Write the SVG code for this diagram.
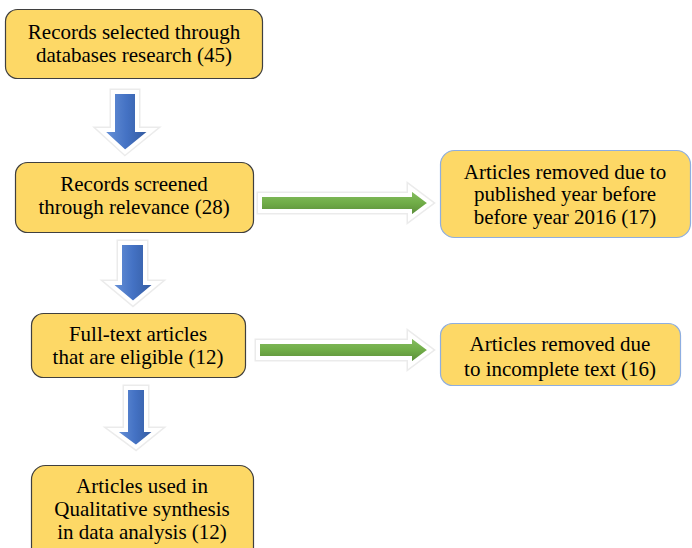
<svg xmlns="http://www.w3.org/2000/svg" width="692" height="548" viewBox="0 0 692 548">
<defs>
<linearGradient id="gb" x1="0" y1="0" x2="1" y2="0">
<stop offset="0" stop-color="#7099dc"/><stop offset="0.5" stop-color="#4472c4"/><stop offset="1" stop-color="#2f5597"/>
</linearGradient>
<linearGradient id="gg" x1="0" y1="0" x2="0" y2="1">
<stop offset="0" stop-color="#8cc269"/><stop offset="0.5" stop-color="#70ad47"/><stop offset="1" stop-color="#548235"/>
</linearGradient>
</defs>
<style>
.box{fill:#fdd866;stroke:#3f3f3f;stroke-width:1.2}
.boxb{fill:#fdd866;stroke:#8eaee0;stroke-width:1.2}
.halo{fill:none;stroke:#000;stroke-opacity:0.08;stroke-width:7;stroke-linejoin:miter}
.ab{fill:url(#gb);stroke:#fff;stroke-width:4;stroke-linejoin:miter}
.ag{fill:url(#gg);stroke:#fff;stroke-width:4;stroke-linejoin:miter}
</style>
<g id="connectors">
<path class="halo" d="M113,92 H137 V130 H152 L125,152 L101,130 H113 Z"/>
<path class="ab" d="M113,92 H137 V130 H152 L125,152 L101,130 H113 Z"/>
<path class="halo" d="M120,243 H145 V283 H157 L133,303 L109,283 H120 Z"/>
<path class="ab" d="M120,243 H145 V283 H157 L133,303 L109,283 H120 Z"/>
<path class="halo" d="M126,388 H146 V430 H157 L136,447 L113,430 H126 Z"/>
<path class="ab" d="M126,388 H146 V430 H157 L136,447 L113,430 H126 Z"/>
<path class="halo" d="M260,195 H410 V188 L430,203 L410,218 V211 H260 Z"/>
<path class="ag" d="M260,195 H410 V188 L430,203 L410,218 V211 H260 Z"/>
<path class="halo" d="M258,342 H410 V335 L430,350 L410,365 V358 H258 Z"/>
<path class="ag" d="M258,342 H410 V335 L430,350 L410,365 V358 H258 Z"/>
</g>
<g id="n1">
<rect class="box" x="5.5" y="9.5" width="257" height="69" rx="12"/>
<text x="134" y="39" text-anchor="middle" font-family="Liberation Serif, Times New Roman, serif" font-size="21">Records selected through</text>
<text x="134" y="62" text-anchor="middle" font-family="Liberation Serif, Times New Roman, serif" font-size="21">databases research (45)</text>
</g>
<g id="n2">
<rect class="box" x="15.5" y="162.5" width="238" height="70" rx="12"/>
<text x="134" y="191" text-anchor="middle" font-family="Liberation Serif, Times New Roman, serif" font-size="21">Records screened</text>
<text x="134" y="214" text-anchor="middle" font-family="Liberation Serif, Times New Roman, serif" font-size="21">through relevance (28)</text>
</g>
<g id="n3">
<rect class="boxb" x="440.5" y="150.5" width="250" height="87" rx="14"/>
<text x="565" y="179" text-anchor="middle" font-family="Liberation Serif, Times New Roman, serif" font-size="21">Articles removed due to</text>
<text x="565" y="201" text-anchor="middle" font-family="Liberation Serif, Times New Roman, serif" font-size="21">published year before</text>
<text x="565" y="224" text-anchor="middle" font-family="Liberation Serif, Times New Roman, serif" font-size="21">before year 2016 (17)</text>
</g>
<g id="n4">
<rect class="box" x="31.5" y="313.5" width="214" height="64" rx="12"/>
<text x="138" y="341" text-anchor="middle" font-family="Liberation Serif, Times New Roman, serif" font-size="21">Full-text articles</text>
<text x="138" y="364" text-anchor="middle" font-family="Liberation Serif, Times New Roman, serif" font-size="21">that are eligible (12)</text>
</g>
<g id="n5">
<rect class="boxb" x="440.5" y="323.5" width="240" height="62" rx="12"/>
<text x="560" y="351" text-anchor="middle" font-family="Liberation Serif, Times New Roman, serif" font-size="21">Articles removed due</text>
<text x="560" y="376" text-anchor="middle" font-family="Liberation Serif, Times New Roman, serif" font-size="21">to incomplete text (16)</text>
</g>
<g id="n6">
<rect class="box" x="31.5" y="465.5" width="222" height="100" rx="14"/>
<text x="142" y="493" text-anchor="middle" font-family="Liberation Serif, Times New Roman, serif" font-size="21">Articles used in</text>
<text x="142" y="516" text-anchor="middle" font-family="Liberation Serif, Times New Roman, serif" font-size="21">Qualitative synthesis</text>
<text x="142" y="539" text-anchor="middle" font-family="Liberation Serif, Times New Roman, serif" font-size="21">in data analysis (12)</text>
</g>
</svg>
